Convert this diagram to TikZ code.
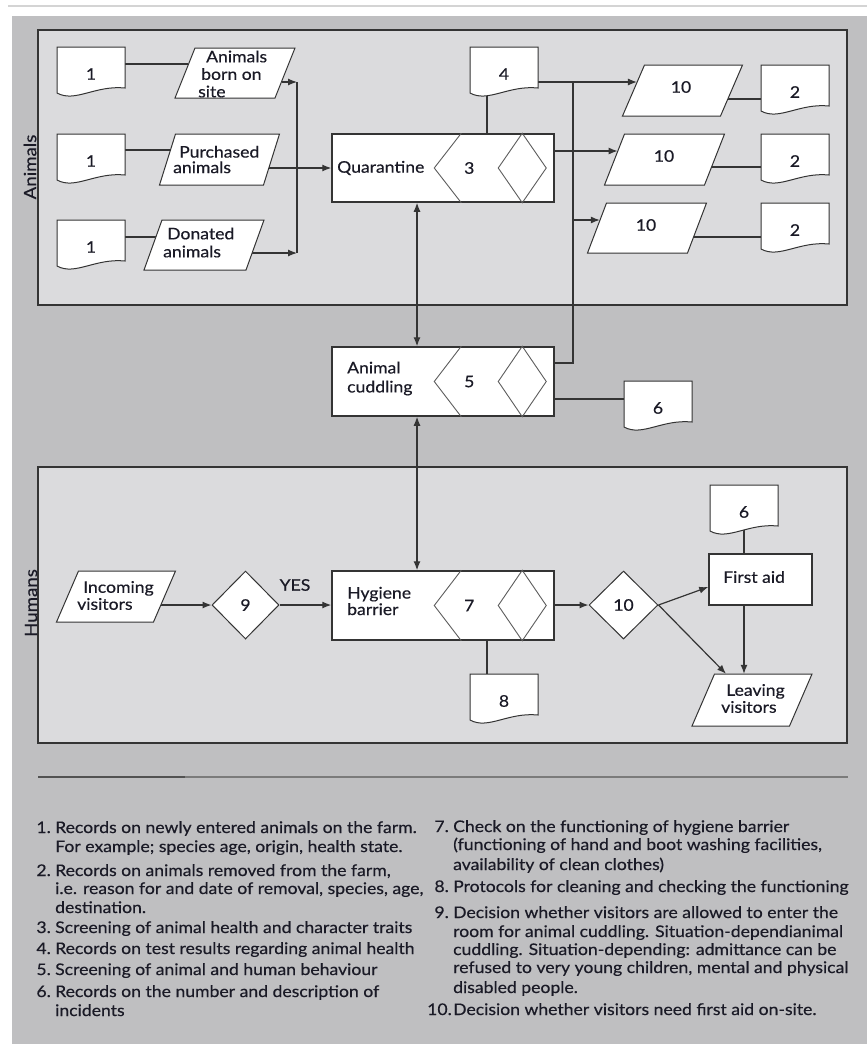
\documentclass[tikz,border=0pt]{standalone}
\usepackage{fontspec}
\setmainfont{Lato}[FakeStretch=1.1, FakeBold=0.4]
\usetikzlibrary{arrows.meta,shapes.geometric,calc}
\pgfdeclarelayer{back}
\pgfdeclarelayer{lines}
\pgfsetlayers{back,lines,main}
\definecolor{outer}{RGB}{191,191,193}
\definecolor{panel}{RGB}{219,219,221}
\definecolor{ink}{RGB}{26,26,38}
\definecolor{edge}{RGB}{52,52,52}
\definecolor{topline}{RGB}{212,212,212}

\newcommand\docnode[4]{%
  \filldraw[docline] (#2,#3) -- ++(68,0) -- ++(0,41) .. controls +(-30,-3) and +(18,10) .. (#2,#3+46) -- cycle;
  \node[docbox] (#1) at (#2+34,#3+27) {#4};}
\newcommand\paranode[6]{%
  \filldraw[shapeline] (#2-#4/2-#6/2,#3+#5/2) -- (#2+#4/2-#6/2,#3+#5/2) -- (#2+#4/2+#6/2,#3-#5/2) -- (#2-#4/2+#6/2,#3-#5/2) -- cycle;
  \node[inner sep=0,minimum width=#4pt,minimum height=#5pt] (#1) at (#2,#3) {};}
\newcommand\procnode[5]{%
  \node[procbox, minimum height=#4pt] (#1) at (#2,#3) {};
  \draw[subline] ([xshift=130pt]#1.north west) -- ([xshift=103pt]#1.west) -- ([xshift=130pt]#1.south west);
  \draw[subline] ([xshift=191pt]#1.north west) -- ([xshift=167pt]#1.west) -- ([xshift=191pt]#1.south west) -- ([xshift=215pt]#1.west) -- cycle;
  \node[txt] (#1-n) at ([xshift=138pt]#1.west) {#5};}

\begin{document}
\begin{tikzpicture}[x=1pt,y=-1pt,
  font=\fontsize{16}{18.5}\selectfont, text=ink,
  docline/.style={draw=edge, fill=white, line width=1pt},
  docbox/.style={inner sep=0, minimum width=68pt, minimum height=46pt},
  shapeline/.style={draw=edge, fill=white, line width=1pt},
  procbox/.style={draw=edge, fill=white, line width=1.5pt, minimum width=222pt, inner sep=0},
  subline/.style={draw=edge!80, line width=0.9pt},
  conn/.style={draw=edge, line width=1.2pt},
  arr/.style={conn, -{Latex[length=9pt,width=7pt]}},
  darr/.style={conn, {Latex[length=9pt,width=7pt]}-{Latex[length=9pt,width=7pt]}},
  txt/.style={inner sep=0},
  tl/.style={inner sep=0, align=left, anchor=west, font=\fontsize{16}{#1}\selectfont},
  diam/.style={diamond, draw=edge, fill=white, line width=1pt, inner sep=0},
  lgn/.style={inner sep=0, anchor=base east},
  lgt/.style={inner sep=0, anchor=base west}]
\useasboundingbox (0,0) rectangle (867,1044);

\begin{pgfonlayer}{back}
  \fill[white] (0,0) rectangle (867,1044);
  \draw[topline, line width=2pt] (8,6) -- (867,6);
  \fill[outer] (12,16) rectangle (867,1044);
  \filldraw[fill=panel, draw=edge, line width=1.5pt] (38,30) rectangle (847,305);
  \filldraw[fill=panel, draw=edge, line width=1.5pt] (38,467) rectangle (847,743);
  \draw[edge!85, line width=1.6pt] (38,777) -- (185,777);
  \draw[edge!65, line width=1.6pt] (185,777) -- (848,777);
\end{pgfonlayer}

% lane labels
\node[txt, rotate=90, font=\fontsize{17}{18}\selectfont] (lAnimals) at (30,167) {Animals};
\node[txt, rotate=90, font=\fontsize{17}{18}\selectfont] (lHumans) at (31,603) {Humans};

% ---------- Animals ----------
\docnode{d1a}{57}{47}{1}
\docnode{d1b}{57}{134}{1}
\docnode{d1c}{57}{220}{1}

\paranode{P1}{235}{73}{100}{50}{20}
\node[tl=17.5] (P1t) at (198,74) {\hspace*{8pt}Animals\\\hspace*{3pt}born on\\site};
\paranode{P2}{219.5}{159.5}{104}{51}{16}
\node[tl=15.5] (P2t) at (173,159.5) {\hspace*{6pt}Purchased\\animals};
\paranode{P3}{204}{245}{102}{50}{18}
\node[tl=18] (P3t) at (163,242.5) {\hspace*{4pt}Donated\\animals};

\procnode{Q}{443}{168}{68}{3}
\node[tl=18] (Qt) at (337,168) {Quarantine};

\docnode{d4}{470}{47}{4}

\paranode{P10a}{682.5}{90.5}{98}{51}{22}
\node[txt] (P10at) at (681,87) {10};
\paranode{P10b}{664.5}{159.5}{100}{51}{20}
\node[txt] (P10bt) at (664,156) {10};
\paranode{P10c}{647}{228}{100}{50}{19}
\node[txt] (P10ct) at (646,225) {10};

\docnode{d2a}{761}{65}{2}
\docnode{d2b}{761}{134}{2}
\docnode{d2c}{761}{203}{2}

\procnode{A}{443}{381.5}{69}{5}
\node[tl=19] (At) at (347,378.5) {Animal\\cuddling};
\docnode{d6a}{624}{381}{6}

\coordinate (mTop) at (297,82);
\coordinate (mBot) at (297,253);
\coordinate (busT) at (573,82);
\coordinate (busM) at (573,220);
\coordinate (busB) at (573,363);

% ---------- Humans ----------
\paranode{Pin}{116}{596.5}{97}{51}{22}
\node[tl=17] (Pint) at (77,595.5) {\hspace*{6pt}Incoming\\visitors};
\node[diam, minimum width=67pt, minimum height=68pt] (D9) at (245.5,605) {9};
\node[txt] (yes) at (295,585) {YES};
\procnode{H}{443}{605.5}{69}{7}
\node[tl=16.5] (Ht) at (347,601) {Hygiene\\barrier};
\node[diam, minimum width=69pt, minimum height=68pt] (D10) at (623.5,605) {10};
\node[procbox, minimum width=103pt, minimum height=51pt] (F) at (760.5,579.5) {};
\node[tl=18] (Ft) at (723,577) {First aid};
\docnode{d6b}{710}{485}{6}
\paranode{L}{752}{700}{97.5}{52}{22.5}
\node[tl=17] (Lt) at (721,698.5) {\hspace*{5pt}Leaving\\visitors};
\docnode{d8}{470}{674}{8}

% ---------- connectors ----------
\begin{pgfonlayer}{lines}
  \draw[conn] ([yshift=10pt]d1a.center) -- ([shift={(3.6,-9)}]P1.west);
  \draw[conn] ([yshift=11pt]d1b.center) -- ([shift={(3.0,-9.5)}]P2.west);
  \draw[conn] ([yshift=10pt]d1c.center) -- ([shift={(2.9,-8)}]P3.west);
  \draw[arr] ([shift={(-3.6,9)}]P1.east) -- (mTop);
  \draw[arr] ([shift={(-2.9,8)}]P3.east) -- (mBot);
  \draw[conn] (mTop) -- (mBot);
  \draw[arr] ([shift={(-2.7,8.5)}]P2.east) -- (Q.west);
  \draw[conn] ([xshift=-17pt]d4.center) -- ([xshift=-17pt]d4.center |- Q.north);
  \draw[arr] ([yshift=-8pt]d4.center) -- ([shift={(3.67,-8.5)}]P10a.west);
  \draw[arr] ([yshift=17pt]Q.east) -- ([shift={(3.33,-8.5)}]P10b.west);
  \draw[arr] (busM) -- ([shift={(3.04,-8)}]P10c.west);
  \draw[conn] (busT) -- (busB) -- ([yshift=18.5pt]A.east);
  \draw[conn] ([yshift=-8.5pt]P10a.center) -- ([yshift=-8.5pt]P10a.center -| d2a.center);
  \draw[conn] ([yshift=-7.5pt]P10b.center) -- ([yshift=-7.5pt]P10b.center -| d2b.center);
  \draw[conn] ([yshift=-9pt]P10c.center) -- ([yshift=-9pt]P10c.center -| d2c.center);
  \draw[darr] ([xshift=-26pt]Q.south) -- ([xshift=-26pt]A.north);
  \draw[darr] ([xshift=-26pt]A.south) -- ([xshift=-26pt]H.north);
  \draw[conn] ([yshift=-17.5pt]A.east) -- ([yshift=-17.5pt]A.east -| d6a.center);
  \draw[arr] ([shift={(-3.67,8.5)}]Pin.east) -- (D9.west);
  \draw[arr] (D9.east) -- (H.west |- D9.east);
  \draw[arr] (H.east |- D10.west) -- (D10.west);
  \draw[arr] (D10.east) -- ([yshift=-7.5pt]F.west);
  \draw[arr] (D10.east) -- ([xshift=-26pt]L.north);
  \draw[conn] (d6b.center) -- (d6b.center |- F.north);
  \draw[arr] (d6b.center |- F.south) -- (d6b.center |- L.north);
  \draw[conn] ([xshift=-17pt]d8.center) -- ([xshift=-17pt]d8.center |- H.south);
\end{pgfonlayer}

% ---------- legend ----------
\node[lgn] (n1) at (51,833) {1.};
\node[lgt] (t1a) at (55,833) {Records on newly entered animals on the farm.};
\node[lgt] (t1b) at (55,852) {For example; species age, origin, health state.};
\node[lgn] (n2) at (51,876) {2.};
\node[lgt] (t2a) at (55,876) {Records on animals removed from the farm,};
\node[lgt] (t2b) at (55,894) {i.e. reason for and date of removal, species, age,};
\node[lgt] (t2c) at (55,913) {destination.};
\node[lgn] (n3) at (51,933) {3.};
\node[lgt] (t3) at (55,933) {Screening of animal health and character traits};
\node[lgn] (n4) at (51,954) {4.};
\node[lgt] (t4) at (55,954) {Records on test results regarding animal health};
\node[lgn] (n5) at (51,975) {5.};
\node[lgt] (t5) at (55,975) {Screening of animal and human behaviour};
\node[lgn] (n6) at (51,997) {6.};
\node[lgt] (t6a) at (55,997) {Records on the number and description of};
\node[lgt] (t6b) at (55,1016) {incidents};

\node[lgn] (n7) at (449,832) {7.};
\node[lgt] (t7a) at (453,832) {Check on the functioning of hygiene barrier};
\node[lgt] (t7b) at (453,850) {(functioning of hand and boot washing facilities,};
\node[lgt] (t7c) at (453,870) {availability of clean clothes)};
\node[lgn] (n8) at (449,892) {8.};
\node[lgt] (t8) at (453,892) {Protocols for cleaning and checking the functioning};
\node[lgn] (n9) at (449,918) {9.};
\node[lgt] (t9a) at (453,918) {Decision whether visitors are allowed to enter the};
\node[lgt] (t9b) at (453,937) {room for animal cuddling. Situation-dependianimal};
\node[lgt] (t9c) at (453,955) {cuddling. Situation-depending: admittance can be};
\node[lgt] (t9d) at (453,973) {refused to very young children, mental and physical};
\node[lgt] (t9e) at (453,993) {disabled people.};
\node[lgn] (n10) at (452,1015) {10.};
\node[lgt] (t10) at (453,1015) {Decision whether visitors need first aid on-site.};
\end{tikzpicture}
\end{document}
